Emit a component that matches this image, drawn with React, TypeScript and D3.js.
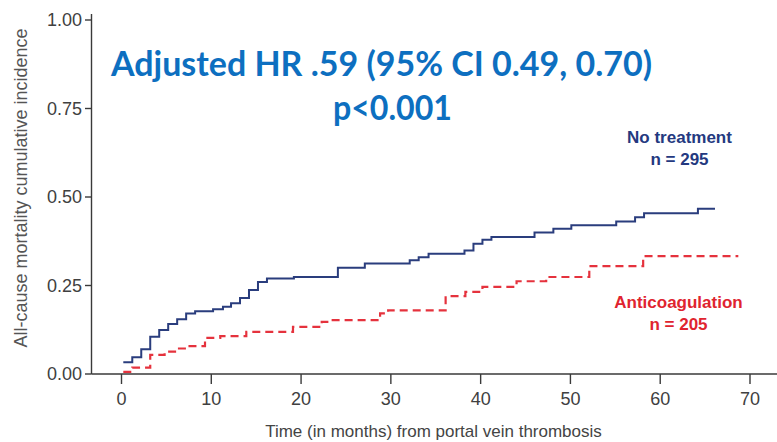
import React from "react";
import * as d3 from "d3";

// Cumulative incidence step points: time (months) and value after each event
const noTreatmentTimes = [0.2, 1.2, 2.2, 3.2, 4.2, 5.2, 6.2, 7.2, 8.2, 10.2, 11.3, 12.2, 13.2, 14.2, 15.2, 16.2, 19.2, 24.1, 27.1, 32.1, 33.1, 34.2, 38.2, 39.2, 40.2, 41.2, 46.0, 48.1, 50.1, 55.1, 57.2, 58.2, 64.2];
const noTreatmentValues = [0.033, 0.047, 0.07, 0.105, 0.124, 0.141, 0.155, 0.171, 0.177, 0.183, 0.19, 0.2, 0.215, 0.237, 0.26, 0.27, 0.274, 0.3, 0.312, 0.321, 0.33, 0.34, 0.349, 0.368, 0.379, 0.387, 0.4, 0.41, 0.42, 0.431, 0.443, 0.454, 0.467];
const noTreatmentEnd = 66.1;

const anticoagTimes = [0.2, 1.2, 3.2, 4.8, 6.1, 7.2, 9.3, 11.0, 13.9, 19.1, 22.3, 23.2, 28.8, 29.7, 36.1, 38.3, 40.2, 44.0, 47.3, 52.1, 58.1];
const anticoagValues = [0.006, 0.018, 0.054, 0.063, 0.072, 0.079, 0.102, 0.107, 0.119, 0.133, 0.147, 0.152, 0.171, 0.18, 0.22, 0.232, 0.246, 0.262, 0.274, 0.305, 0.333];
const anticoagEnd = 68.7;

const xTicks = [0, 10, 20, 30, 40, 50, 60, 70];
const yTicks = [0, 0.25, 0.5, 0.75, 1.0];

const titleLine1 = "Adjusted HR .59 (95% CI 0.49, 0.70)";
const titleLine2 = "p<0.001";
const noTreatmentLabel = ["No treatment", "n = 295"];
const anticoagLabel = ["Anticoagulation", "n = 205"];
const xAxisTitle = "Time (in months) from portal vein thrombosis";
const yAxisTitle = "All-cause mortality cumulative incidence";

const W = 777;
const H = 442;

const x = d3.scaleLinear().domain([0, 70]).range([121.5, 750]);
const y = d3.scaleLinear().domain([0, 1]).range([374, 20]);

const stepLine = d3
  .line<[number, number]>()
  .x((d) => x(d[0]))
  .y((d) => y(d[1]))
  .curve(d3.curveStepAfter);

function toPoints(times: number[], values: number[], end: number): [number, number][] {
  const pts: [number, number][] = times.map((t, i) => [t, values[i]]);
  pts.push([end, values[values.length - 1]]);
  return pts;
}

const AXIS_FONT = "'Liberation Sans', Arial, sans-serif";

export default function App() {
  const blue = toPoints(noTreatmentTimes, noTreatmentValues, noTreatmentEnd);
  const red = toPoints(anticoagTimes, anticoagValues, anticoagEnd);
  const axisColor = "#3a3a3a";
  const tickText = "#404040";

  return (
    <svg
      width={W}
      height={H}
      style={{ position: "absolute", left: 0, top: 0, background: "#fff" }}
    >
      {/* axes */}
      <line x1={91.5} x2={91.5} y1={14} y2={374} stroke={axisColor} strokeWidth={1.4} />
      <line x1={91.5} x2={777} y1={374} y2={374} stroke={axisColor} strokeWidth={1.4} />

      {yTicks.map((t) => (
        <g key={"y" + t}>
          <line x1={85} x2={91.5} y1={y(t)} y2={y(t)} stroke={axisColor} strokeWidth={1.4} />
          <text
            x={82}
            y={y(t)}
            dy="0.36em"
            textAnchor="end"
            fontFamily={AXIS_FONT}
            fontSize={18}
            fill={tickText}
          >
            {t.toFixed(2)}
          </text>
        </g>
      ))}

      {xTicks.map((t) => (
        <g key={"x" + t}>
          <line x1={x(t)} x2={x(t)} y1={374} y2={384} stroke={axisColor} strokeWidth={1.4} />
          <text
            x={x(t)}
            y={405}
            textAnchor="middle"
            fontFamily={AXIS_FONT}
            fontSize={18}
            fill={tickText}
          >
            {t}
          </text>
        </g>
      ))}

      <text
        x={433.5}
        y={437}
        textAnchor="middle"
        fontFamily={AXIS_FONT}
        fontSize={17}
        fill="#444"
      >
        {xAxisTitle}
      </text>
      <text
        transform="rotate(-90)"
        x={-188}
        y={27}
        textAnchor="middle"
        fontFamily={AXIS_FONT}
        fontSize={18}
        fill="#555"
      >
        {yAxisTitle}
      </text>

      {/* curves */}
      <path d={stepLine(red) ?? ""} fill="none" stroke="#e5323d" strokeWidth={2.2} strokeDasharray="8,5" />
      <path d={stepLine(blue) ?? ""} fill="none" stroke="#2a3d7d" strokeWidth={2} />

      {/* group labels */}
      <g fontFamily={AXIS_FONT} fontWeight={700} fontSize={17} textAnchor="middle">
        <text x={679.5} y={143} fill="#24397f">{noTreatmentLabel[0]}</text>
        <text x={679.5} y={165} fill="#24397f">{noTreatmentLabel[1]}</text>
        <text x={678.5} y={308} fill="#e0242f">{anticoagLabel[0]}</text>
        <text x={678.5} y={330} fill="#e0242f">{anticoagLabel[1]}</text>
      </g>

      {/* hazard ratio annotation */}
      <g fontFamily="Lato, 'Open Sans', sans-serif" fontWeight={700} fontSize={34} fill="#0d6fc0">
        <text x={111} y={76} textLength={541} lengthAdjust="spacingAndGlyphs">{titleLine1}</text>
        <text x={333} y={120} textLength={119} lengthAdjust="spacingAndGlyphs">{titleLine2}</text>
      </g>
    </svg>
  );
}
